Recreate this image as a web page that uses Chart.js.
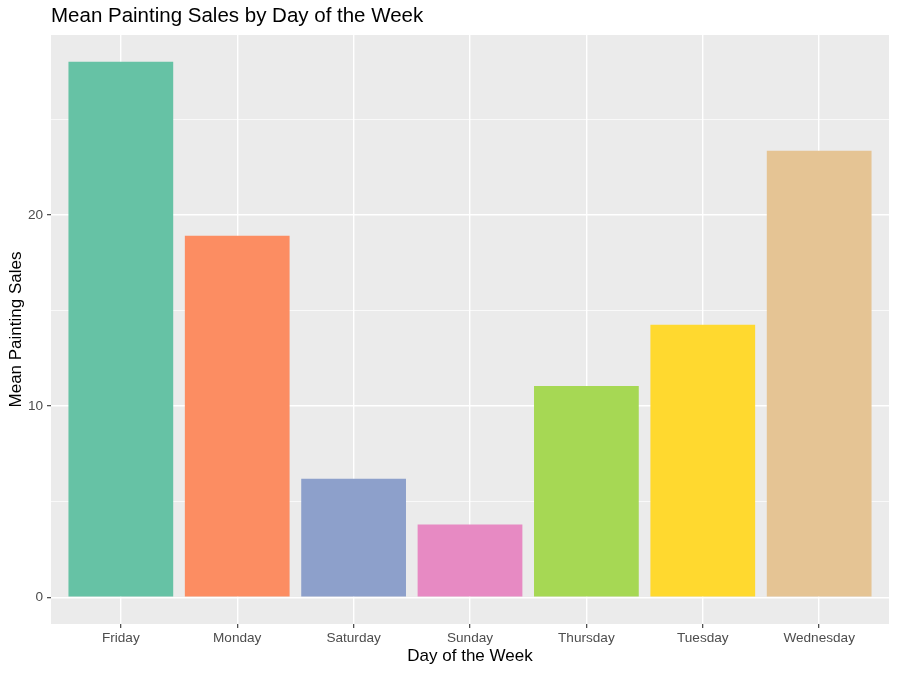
<!DOCTYPE html>
<html>
<head>
<meta charset="utf-8">
<script src="https://cdn.jsdelivr.net/npm/chart.js@4.4.0/dist/chart.umd.min.js"></script>
<style>
  html, body { margin: 0; padding: 0; background: #fff; }
  #wrap { width: 897px; height: 673px; }
</style>
</head>
<body>
<div id="wrap"><canvas id="chart"></canvas></div>
<script>
const days = ["Friday", "Monday", "Saturday", "Sunday", "Thursday", "Tuesday", "Wednesday"],
    meanSales = [28.0, 18.9, 6.2, 3.8, 11.05, 14.25, 23.35],
    dayColors = ["#66C2A5", "#FC8D62", "#8DA0CB", "#E78AC3", "#A6D854", "#FFD92F", "#E5C494"],
    yTicks = [0, 5, 10, 15, 20, 25],
    yLabels = [0, 10, 20];

const FONT = "'Liberation Sans', Arial, sans-serif";
const ctx = document.getElementById("chart").getContext("2d");

// grey panel behind the plot + title above it, ggplot style
const panel = {
    id: 'panel',
    beforeDraw(chart) {
        const a = chart.chartArea, c = chart.ctx;
        c.save();
        c.fillStyle = "#EBEBEB";
        c.fillRect(a.left, a.top, a.right - a.left, a.bottom - a.top);
        c.restore();
    },
    afterDraw(chart) {
        const c = chart.ctx;
        c.save();
        c.fillStyle = "#000";
        c.font = "20.5px " + FONT;
        c.textBaseline = "alphabetic";
        c.fillText("Mean Painting Sales by Day of the Week", chart.chartArea.left, 22);
        c.restore();
    }
};

const isMajor = v => yLabels.includes(v);

new Chart(ctx, {
    type: 'bar',
    data: {
        datasets: [{
            data: days.map((d, i) => ({ x: i, y: meanSales[i] })),
            backgroundColor: dayColors,
            borderWidth: 0,
            barPercentage: 0.9,
            categoryPercentage: 1
        }]
    },
    plugins: [panel],
    options: {
        responsive: true,
        maintainAspectRatio: false,
        animation: false,
        layout: { padding: { left: 0, top: 35, right: 8, bottom: 0 } },
        plugins: {
            legend: { display: false },
            tooltip: { enabled: false }
        },
        scales: {
            x: {
                type: 'linear',
                min: -0.6,
                max: 6.6,
                offset: false,
                afterBuildTicks: s => { s.ticks = days.map((d, i) => ({ value: i })); },
                afterFit: s => { s.height = 49; },
                border: { display: false },
                grid: { offset: false, color: "#FFFFFF", lineWidth: 1.4, tickLength: 4, tickColor: "#333333", tickWidth: 1.1 },
                ticks: {
                    callback: v => days[v],
                    color: "#4D4D4D",
                    font: { family: FONT, size: 13.6 },
                    padding: 2,
                    maxRotation: 0,
                    autoSkip: false
                },
                title: {
                    display: true,
                    text: "Day of the Week",
                    color: "#000",
                    font: { family: FONT, size: 17 },
                    padding: { top: 0, bottom: 6 }
                }
            },
            y: {
                min: -1.4,
                max: 29.4,
                afterBuildTicks: s => { s.ticks = yTicks.map(v => ({ value: v })); },
                afterFit: s => { s.width = 51; },
                border: { display: false },
                grid: {
                    color: "#FFFFFF",
                    lineWidth: c => isMajor(c.tick.value) ? 1.4 : 0.7,
                    tickLength: 4,
                    tickColor: c => isMajor(c.tick.value) ? "#333333" : "rgba(0,0,0,0)",
                    tickWidth: 1.1
                },
                ticks: {
                    callback: v => isMajor(v) ? String(v) : "",
                    color: "#4D4D4D",
                    font: { family: FONT, size: 13.6 },
                    padding: 4
                },
                title: {
                    display: true,
                    text: "Mean Painting Sales",
                    color: "#000",
                    font: { family: FONT, size: 17 },
                    padding: { top: 6, bottom: 0 }
                }
            }
        }
    }
});
</script>
</body>
</html>
